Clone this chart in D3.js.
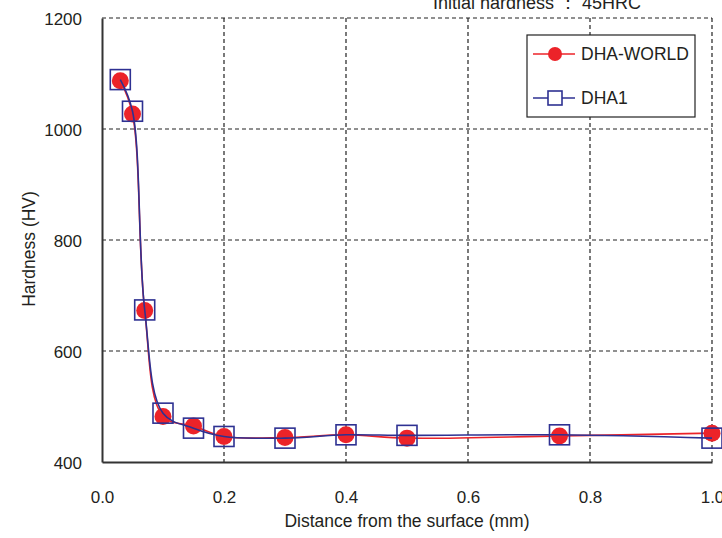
<!DOCTYPE html>
<html>
<head>
<meta charset="utf-8">
<script src="https://cdn.jsdelivr.net/npm/d3@7"></script>
<style>
  body { margin: 0; background: #fff; }
  svg { display: block; font-family: "Liberation Sans", Arial, sans-serif; }
</style>
</head>
<body>
<svg id="chart" width="722" height="538"></svg>
<script>
// ---- data ----
const distances = [0.03, 0.05, 0.07, 0.10, 0.15, 0.2, 0.3, 0.4, 0.5, 0.75, 1.0];
const dhaWorld = [1087, 1027, 673, 482, 465, 446, 444, 449, 443, 447, 452];
const dha1 = [1089, 1032, 674, 488, 461, 446, 443, 449, 448, 449, 443];
const xTicks = [0.0, 0.2, 0.4, 0.6, 0.8, 1.0];
const yTicks = [400, 600, 800, 1000, 1200];
const seriesNames = ["DHA-WORLD", "DHA1"];
const titleText = "Initial hardness ： 45HRC";
const xTitle = "Distance from the surface (mm)";
const yTitle = "Hardness (HV)";

// ---- layout ----
const svg = d3.select("#chart");
const pLeft = 102, pRight = 712, pTop = 18, pBottom = 462;
const x = d3.scaleLinear().domain([0, 1]).range([pLeft, pRight]);
const y = d3.scaleLinear().domain([400, 1200]).range([pBottom, pTop]);
const textColor = "#231f20";
const red = "#ec2329";
const blue = "#2e3192";

// gridlines
const grid = svg.append("g").attr("stroke", "#222").attr("stroke-width", 1.2).attr("stroke-dasharray", "4,3");
grid.selectAll("line.v").data(xTicks.filter(d => d > 0)).join("line")
  .attr("x1", d => x(d)).attr("x2", d => x(d)).attr("y1", pTop).attr("y2", pBottom);
grid.selectAll("line.h").data(yTicks.filter(d => d > 400)).join("line")
  .attr("x1", pLeft).attr("x2", pRight).attr("y1", d => y(d)).attr("y2", d => y(d));

// axes
const xAxis = d3.axisBottom(x).tickValues(xTicks).tickFormat(d3.format(".1f")).tickSize(0).tickPadding(0);
const yAxis = d3.axisLeft(y).tickValues(yTicks).tickFormat(d3.format("d")).tickSize(0).tickPadding(0);

const gx = svg.append("g").attr("transform", `translate(0,${pBottom})`).call(xAxis);
gx.select(".domain").attr("stroke", "#333").attr("stroke-width", 2);
gx.selectAll("text").attr("font-size", 17).attr("fill", textColor)
  .attr("font-family", "Liberation Sans, Arial, sans-serif")
  .attr("dy", 0).attr("y", 41);

const gy = svg.append("g").attr("transform", `translate(${pLeft},0)`).call(yAxis);
gy.select(".domain").attr("stroke", "#333").attr("stroke-width", 2);
gy.selectAll("text").attr("font-size", 17).attr("fill", textColor)
  .attr("font-family", "Liberation Sans, Arial, sans-serif")
  .attr("x", -20).attr("dy", "0.36em");

// titles
svg.append("text").attr("x", 407).attr("y", 527).attr("text-anchor", "middle")
  .attr("font-size", 17.5).attr("fill", textColor).text(xTitle);
svg.append("text").attr("transform", "translate(35,249) rotate(-90)").attr("text-anchor", "middle")
  .attr("font-size", 17.5).attr("fill", textColor).text(yTitle);
svg.append("text").attr("x", 537).attr("y", 9).attr("text-anchor", "middle")
  .attr("font-size", 18).attr("fill", textColor).text(titleText);

// series
const line = d3.line().x(d => x(d[0])).y(d => y(d[1])).curve(d3.curveCatmullRom.alpha(0.5));
const redData = distances.map((d, i) => [d, dhaWorld[i]]);
const blueData = distances.map((d, i) => [d, dha1[i]]);

svg.append("path").datum(redData).attr("d", line).attr("fill", "none")
  .attr("stroke", red).attr("stroke-width", 1.6);
svg.append("g").selectAll("circle").data(redData).join("circle")
  .attr("cx", d => x(d[0])).attr("cy", d => y(d[1])).attr("r", 8.5).attr("fill", red);

svg.append("path").datum(blueData).attr("d", line).attr("fill", "none")
  .attr("stroke", blue).attr("stroke-width", 1.6);
svg.append("g").selectAll("rect").data(blueData).join("rect")
  .attr("x", d => x(d[0]) - 10).attr("y", d => y(d[1]) - 10).attr("width", 20).attr("height", 20)
  .attr("fill", "none").attr("stroke", blue).attr("stroke-width", 1.6);

// legend
const lg = svg.append("g");
lg.append("rect").attr("x", 527).attr("y", 35).attr("width", 168).attr("height", 82)
  .attr("fill", "#fff").attr("stroke", "#222").attr("stroke-width", 1.2);
const legendRows = [
  { name: seriesNames[0], color: red, shape: "circle", cy: 54 },
  { name: seriesNames[1], color: blue, shape: "square", cy: 98 }
];
legendRows.forEach(r => {
  lg.append("line").attr("x1", 533).attr("x2", 575).attr("y1", r.cy).attr("y2", r.cy)
    .attr("stroke", r.color).attr("stroke-width", 1.6);
  if (r.shape === "circle") {
    lg.append("circle").attr("cx", 555).attr("cy", r.cy).attr("r", 7).attr("fill", r.color);
  } else {
    lg.append("rect").attr("x", 548).attr("y", r.cy - 7).attr("width", 14).attr("height", 14)
      .attr("fill", "#fff").attr("stroke", r.color).attr("stroke-width", 1.6);
  }
  lg.append("text").attr("x", 581).attr("y", r.cy).attr("dy", "0.36em")
    .attr("font-size", 17.5).attr("fill", textColor).text(r.name);
});
</script>
</body>
</html>
